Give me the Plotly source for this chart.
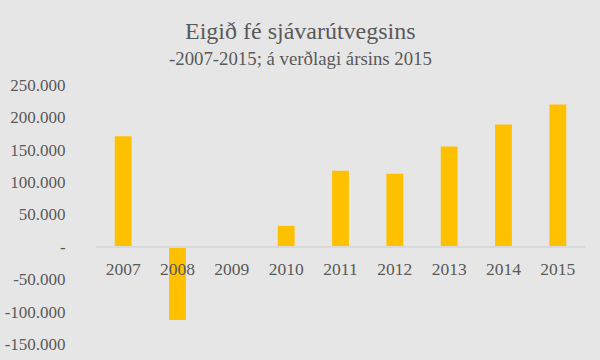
import plotly.graph_objects as go

years = ["2007", "2008", "2009", "2010", "2011", "2012", "2013", "2014", "2015"]
values = [171000, -113000, 0, 32500, 117500, 113000, 155000, 189000, 220000]
ytick_vals = [250000, 200000, 150000, 100000, 50000, 0, -50000, -100000, -150000]
ytick_text = ["250.000", "200.000", "150.000", "100.000", "50.000", "-", "-50.000", "-100.000", "-150.000"]
title = "Eigið fé sjávarútvegsins"
subtitle = "-2007-2015; á verðlagi ársins 2015"

ymin, ymax = -150000, 250000
L, R, T, B = 96, 15, 85, 16
W, H = 600, 360
BG = "#E7E6E6"
plot_w = W - L - R
plot_h = H - T - B

fig = go.Figure()
fig.add_trace(go.Bar(x=years, y=values, marker=dict(color="#FFC000", line=dict(width=0)),
                     width=0.31))

def px_to_paper(xpx, ypx):
    return (xpx - L) / plot_w, (H - B - ypx) / plot_h

tx, ty = px_to_paper(300, 31)
sx, sy = px_to_paper(300, 58)

fig.update_layout(
    width=W, height=H,
    paper_bgcolor=BG, plot_bgcolor=BG,
    margin=dict(l=L, r=R, t=T, b=B, autoexpand=False),
    showlegend=False,
    font=dict(family="Liberation Serif", color="#595959"),
    annotations=[
        dict(text=title, x=tx, y=ty, xref="paper", yref="paper", showarrow=False,
             yanchor="middle", font=dict(size=24, color="#595959", family="Liberation Serif")),
        dict(text=subtitle, x=sx, y=sy, xref="paper", yref="paper", showarrow=False,
             yanchor="middle", font=dict(size=18.8, color="#595959", family="Liberation Serif")),
    ],
)

fig.update_xaxes(
    type="category", anchor="free", position=(0 - ymin) / (ymax - ymin),
    showline=True, linecolor="#D9D9D9", linewidth=1.5, automargin=False,
    showgrid=False, ticks="outside", ticklen=6, tickcolor="rgba(0,0,0,0)",
    tickfont=dict(size=17.5, color="#595959"),
)
fig.update_yaxes(
    range=[ymin, ymax], tickvals=ytick_vals, ticktext=ytick_text, automargin=False,
    showgrid=False, zeroline=False, showline=False,
    ticks="outside", ticklen=26, tickcolor="rgba(0,0,0,0)",
    tickfont=dict(size=17, color="#595959"),
)

fig.write_html(
    "out.html",
    config={"displayModeBar": False},
    post_script="document.body.style.margin='0';document.body.style.background='%s';" % BG,
)
